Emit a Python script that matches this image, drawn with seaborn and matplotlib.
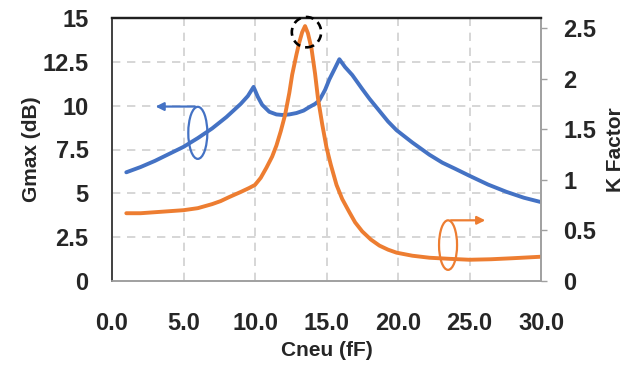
import matplotlib
matplotlib.use("Agg")
import matplotlib.pyplot as plt
from matplotlib.patches import Ellipse
import seaborn as sns
import pandas as pd

# ---- data ----
cneu_g = [1, 2, 3, 4, 5, 6, 7, 8, 9, 9.5, 9.9, 10.2, 10.5, 11, 11.5, 11.9, 12.4,
          12.9, 13.4, 13.8, 14.2, 14.5, 14.9, 15.2, 15.6, 15.9, 16.3, 16.8, 17.5,
          18, 18.7, 19.3, 19.9, 21, 22.2, 23.1, 24, 25, 26.3, 27.6, 28.8, 30]
gmax = [6.2, 6.5, 6.85, 7.25, 7.65, 8.15, 8.7, 9.35, 10.1, 10.55, 11.07, 10.5,
        10.05, 9.65, 9.5, 9.47, 9.5, 9.58, 9.72, 9.92, 10.1, 10.3, 10.9, 11.5,
        12.15, 12.65, 12.2, 11.75, 10.95, 10.4, 9.7, 9.1, 8.6, 7.9, 7.2, 6.75,
        6.4, 6.0, 5.5, 5.08, 4.75, 4.5]

cneu_k = [1, 2, 3, 4, 5, 6, 7, 7.6, 8.2, 9, 9.6, 10, 10.4, 10.8, 11.2, 11.5, 11.8,
          12.1, 12.4, 12.6, 12.9, 13.1, 13.3, 13.5, 13.7, 13.95, 14.2, 14.4, 14.7,
          15.0, 15.3, 15.7, 16.1, 16.6, 17.0, 17.5, 18.1, 18.7, 19.3, 19.9, 21,
          22.2, 23.5, 25, 26.5, 28, 30]
kfactor = [0.67, 0.67, 0.68, 0.69, 0.70, 0.72, 0.76, 0.79, 0.83, 0.88, 0.92, 0.95,
           1.02, 1.12, 1.23, 1.34, 1.48, 1.64, 1.86, 2.04, 2.24, 2.36, 2.46, 2.52,
           2.45, 2.30, 2.05, 1.81, 1.55, 1.32, 1.15, 0.95, 0.81, 0.68, 0.58, 0.49,
           0.41, 0.35, 0.31, 0.28, 0.25, 0.23, 0.22, 0.21, 0.215, 0.225, 0.24]

xticks = [0, 5, 10, 15, 20, 25, 30]
xtick_labels = ["0.0", "5.0", "10.0", "15.0", "20.0", "25.0", "30.0"]
yticks_left = [0, 2.5, 5, 7.5, 10, 12.5, 15]
ytick_left_labels = ["0", "2.5", "5", "7.5", "10", "12.5", "15"]
yticks_right = [0, 0.5, 1, 1.5, 2, 2.5]
ytick_right_labels = ["0", "0.5", "1", "1.5", "2", "2.5"]

BLUE = "#4472C4"
ORANGE = "#ED7D31"
GRID = "#D0D0D0"

sns.set_style("white")
plt.rcParams["font.family"] = ["Liberation Sans", "DejaVu Sans"]
plt.rcParams["font.weight"] = "bold"

fig = plt.figure(figsize=(6.26, 3.67), dpi=100)
ax = fig.add_axes([112 / 626, 86 / 367, (541 - 112) / 626, (281 - 18) / 367])
ax2 = ax.twinx()

df_g = pd.DataFrame({"Cneu": cneu_g, "Gmax": gmax})
df_k = pd.DataFrame({"Cneu": cneu_k, "K": kfactor})

sns.lineplot(data=df_g, x="Cneu", y="Gmax", ax=ax, color=BLUE, lw=2.8, sort=False)
sns.lineplot(data=df_k, x="Cneu", y="K", ax=ax2, color=ORANGE, lw=2.8, sort=False)
for a in (ax, ax2):
    for ln in a.get_lines():
        ln.set_solid_joinstyle("round")
        ln.set_solid_capstyle("round")

ax.set_xlim(0, 30)
ax.set_ylim(0, 15)
ax2.set_ylim(0, 2.6)

# grid
for v in [5, 10, 15, 20, 25]:
    ax.axvline(v, color=GRID, lw=1.2, ls=(0, (5, 4)), zorder=0)
for v in [2.5, 5, 7.5, 10, 12.5]:
    ax.axhline(v, color=GRID, lw=1.2, ls=(0, (5, 4)), zorder=0)

ax.set_xticks(xticks)
ax.set_xticklabels(xtick_labels)
ax.set_yticks(yticks_left)
ax.set_yticklabels(ytick_left_labels)
ax2.set_yticks(yticks_right)
ax2.set_yticklabels(ytick_right_labels)

ax.tick_params(axis="x", length=5, width=1, color="#A0A0A0", pad=17, labelsize=17)
ax.tick_params(axis="y", length=0, pad=17, labelsize=17)
ax2.tick_params(axis="y", length=4, width=1, color="#A0A0A0", pad=12, labelsize=17)

for lab in ax.get_xticklabels() + ax.get_yticklabels() + ax2.get_yticklabels():
    lab.set_fontweight("bold")

ax.set_xlabel("Cneu (fF)", fontsize=15, fontweight="bold", labelpad=5)
ax.set_ylabel("Gmax (dB)", fontsize=15, fontweight="bold", labelpad=1)
ax2.set_ylabel("K Factor", fontsize=15, fontweight="bold", labelpad=7)

for a in (ax, ax2):
    a.spines["top"].set_color("#202020")
    a.spines["top"].set_linewidth(1.6)
    a.spines["left"].set_color("#404040")
    a.spines["left"].set_linewidth(1.2)
    a.spines["bottom"].set_color("#A0A0A0")
    a.spines["bottom"].set_linewidth(1.2)
    a.spines["right"].set_color("#A0A0A0")
    a.spines["right"].set_linewidth(1.2)

# annotation: blue ellipse + arrow (left axis)
ax.add_patch(Ellipse((6.0, 8.45), 1.33, 2.97, fill=False, ec=BLUE, lw=1.6, zorder=5))
ax.annotate("", xy=(2.85, 9.95), xytext=(6.0, 9.95),
            arrowprops=dict(arrowstyle="-|>", color=BLUE, lw=1.6, mutation_scale=12))

# annotation: orange ellipse + arrow (right axis)
ax2.add_patch(Ellipse((23.5, 0.355), 1.26, 0.49, fill=False, ec=ORANGE, lw=1.6, zorder=5))
ax2.annotate("", xy=(26.3, 0.60), xytext=(23.5, 0.60),
             arrowprops=dict(arrowstyle="-|>", color=ORANGE, lw=1.6, mutation_scale=12))

# dashed circle around the K peak
ax2.add_patch(Ellipse((13.6, 2.46), 2.05, 0.30, fill=False, ec="black", lw=1.9,
                      ls=(0, (3, 2)), zorder=6, clip_on=False))

fig.savefig("out.png", dpi=100)
